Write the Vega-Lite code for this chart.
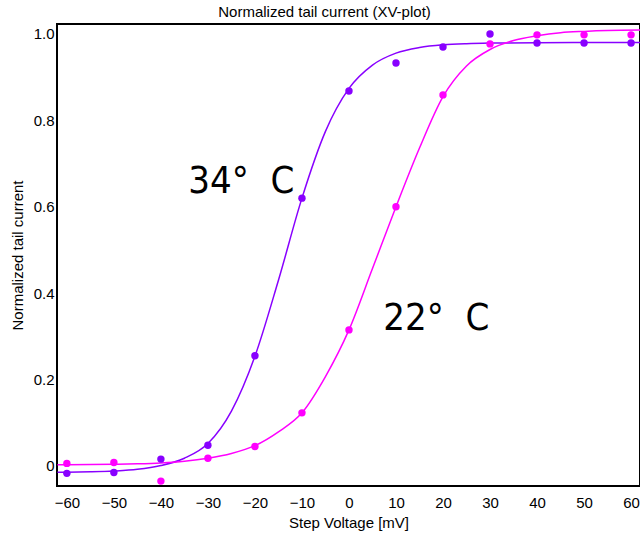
{
  "$schema": "https://vega.github.io/schema/vega-lite/v6.json",
  "autosize": "none",
  "padding": {"left": 57, "top": 24, "right": 0, "bottom": 47},
  "width": 583,
  "height": 462,
  "background": "white",
  "config": {
    "view": {"stroke": "#000", "strokeWidth": 2},
    "font": "Liberation Sans",
    "axis": {"domain": false, "ticks": false, "grid": false, "labelFont": "Liberation Sans", "labelFontSize": 15, "labelColor": "#000", "titleFont": "Liberation Sans", "titleFontSize": 15, "titleFontWeight": "normal", "titleColor": "#000"}
  },
  "title": {"text": "Normalized tail current (XV-plot)", "fontSize": 15, "fontWeight": "normal", "font": "Liberation Sans", "color": "#000", "offset": 4, "dx": -24},
  "datasets": {
    "curves": [
      {"V": -62, "I": -0.0145, "T": "34"}, {"V": -60, "I": -0.0143, "T": "34"}, {"V": -55, "I": -0.0134, "T": "34"}, {"V": -50, "I": -0.0116, "T": "34"}, {"V": -45, "I": -0.0078, "T": "34"}, {"V": -40, "I": 0.001, "T": "34"}, {"V": -35, "I": 0.018, "T": "34"}, {"V": -30, "I": 0.052, "T": "34"}, {"V": -25, "I": 0.127, "T": "34"}, {"V": -20, "I": 0.254, "T": "34"}, {"V": -15, "I": 0.43, "T": "34"}, {"V": -10, "I": 0.62, "T": "34"}, {"V": -5, "I": 0.7745, "T": "34"}, {"V": 0, "I": 0.874, "T": "34"}, {"V": 5, "I": 0.928, "T": "34"}, {"V": 10, "I": 0.9556, "T": "34"}, {"V": 15, "I": 0.9686, "T": "34"}, {"V": 20, "I": 0.9748, "T": "34"}, {"V": 25, "I": 0.9776, "T": "34"}, {"V": 30, "I": 0.9789, "T": "34"}, {"V": 40, "I": 0.9798, "T": "34"}, {"V": 50, "I": 0.98, "T": "34"}, {"V": 62, "I": 0.98, "T": "34"},
      {"V": -62, "I": 0.003, "T": "22"}, {"V": -60, "I": 0.003, "T": "22"}, {"V": -50, "I": 0.004, "T": "22"}, {"V": -45, "I": 0.005, "T": "22"}, {"V": -40, "I": 0.007, "T": "22"}, {"V": -35, "I": 0.011, "T": "22"}, {"V": -30, "I": 0.018, "T": "22"}, {"V": -25, "I": 0.029, "T": "22"}, {"V": -20, "I": 0.047, "T": "22"}, {"V": -15, "I": 0.079, "T": "22"}, {"V": -10, "I": 0.123, "T": "22"}, {"V": -5, "I": 0.207, "T": "22"}, {"V": 0, "I": 0.315, "T": "22"}, {"V": 5, "I": 0.457, "T": "22"}, {"V": 10, "I": 0.6, "T": "22"}, {"V": 15, "I": 0.736, "T": "22"}, {"V": 20, "I": 0.855, "T": "22"}, {"V": 25, "I": 0.926, "T": "22"}, {"V": 30, "I": 0.964, "T": "22"}, {"V": 35, "I": 0.985, "T": "22"}, {"V": 40, "I": 0.996, "T": "22"}, {"V": 45, "I": 1.003, "T": "22"}, {"V": 50, "I": 1.006, "T": "22"}, {"V": 55, "I": 1.008, "T": "22"}, {"V": 62, "I": 1.009, "T": "22"}
    ],
    "points": [
      {"V": -60, "I": -0.017, "T": "34"}, {"V": -50, "I": -0.015, "T": "34"}, {"V": -40, "I": 0.016, "T": "34"}, {"V": -30, "I": 0.048, "T": "34"}, {"V": -20, "I": 0.255, "T": "34"}, {"V": -10, "I": 0.62, "T": "34"}, {"V": 0, "I": 0.868, "T": "34"}, {"V": 10, "I": 0.933, "T": "34"}, {"V": 20, "I": 0.97, "T": "34"}, {"V": 30, "I": 1.0, "T": "34"}, {"V": 40, "I": 0.979, "T": "34"}, {"V": 50, "I": 0.979, "T": "34"}, {"V": 60, "I": 0.979, "T": "34"},
      {"V": -60, "I": 0.006, "T": "22"}, {"V": -50, "I": 0.008, "T": "22"}, {"V": -40, "I": -0.035, "T": "22"}, {"V": -30, "I": 0.018, "T": "22"}, {"V": -20, "I": 0.045, "T": "22"}, {"V": -10, "I": 0.123, "T": "22"}, {"V": 0, "I": 0.315, "T": "22"}, {"V": 10, "I": 0.6, "T": "22"}, {"V": 20, "I": 0.859, "T": "22"}, {"V": 30, "I": 0.977, "T": "22"}, {"V": 40, "I": 0.998, "T": "22"}, {"V": 50, "I": 0.998, "T": "22"}, {"V": 60, "I": 0.998, "T": "22"}
    ],
    "labels": [
      {"V": -34.2, "I": 0.632, "label": "34°\u00a0\u00a0C"},
      {"V": 7.3, "I": 0.315, "label": "22°\u00a0\u00a0C"}
    ]
  },
  "encoding": {
    "x": {"field": "V", "type": "quantitative", "scale": {"domain": [-62.1, 61.9], "nice": false, "zero": false},
      "axis": {"values": [-60, -50, -40, -30, -20, -10, 0, 10, 20, 30, 40, 50, 60], "title": "Step Voltage [mV]", "labelPadding": 9, "titlePadding": 5}},
    "y": {"field": "I", "type": "quantitative", "scale": {"domain": [-0.0463, 1.0231], "nice": false, "zero": false},
      "axis": {"values": [0, 0.2, 0.4, 0.6, 0.8, 1.0], "labelExpr": "datum.value == 0 ? '0' : format(datum.value, '.1f')", "title": "Normalized tail current", "labelPadding": 3, "titlePadding": 8}}
  },
  "layer": [
    {
      "mark": {"type": "rule", "color": "#999999", "strokeDash": [6, 7], "strokeWidth": 1.5},
      "encoding": {"y": {"datum": 0}, "x": null}
    },
    {
      "data": {"name": "curves"},
      "mark": {"type": "line", "interpolate": "monotone", "strokeWidth": 1.5, "clip": true},
      "encoding": {
        "color": {"field": "T", "type": "nominal", "scale": {"domain": ["34", "22"], "range": ["#8800ff", "#ff00ff"]}, "legend": null},
        "detail": {"field": "T"}
      }
    },
    {
      "data": {"name": "points"},
      "mark": {"type": "circle", "size": 55, "opacity": 1},
      "encoding": {
        "color": {"field": "T", "type": "nominal", "scale": {"domain": ["34", "22"], "range": ["#8800ff", "#ff00ff"]}, "legend": null}
      }
    },
    {
      "data": {"name": "labels"},
      "mark": {"type": "text", "align": "left", "baseline": "alphabetic", "font": "DejaVu Sans Condensed", "fontSize": 38, "color": "#000"},
      "encoding": {"text": {"field": "label"}}
    }
  ]
}
